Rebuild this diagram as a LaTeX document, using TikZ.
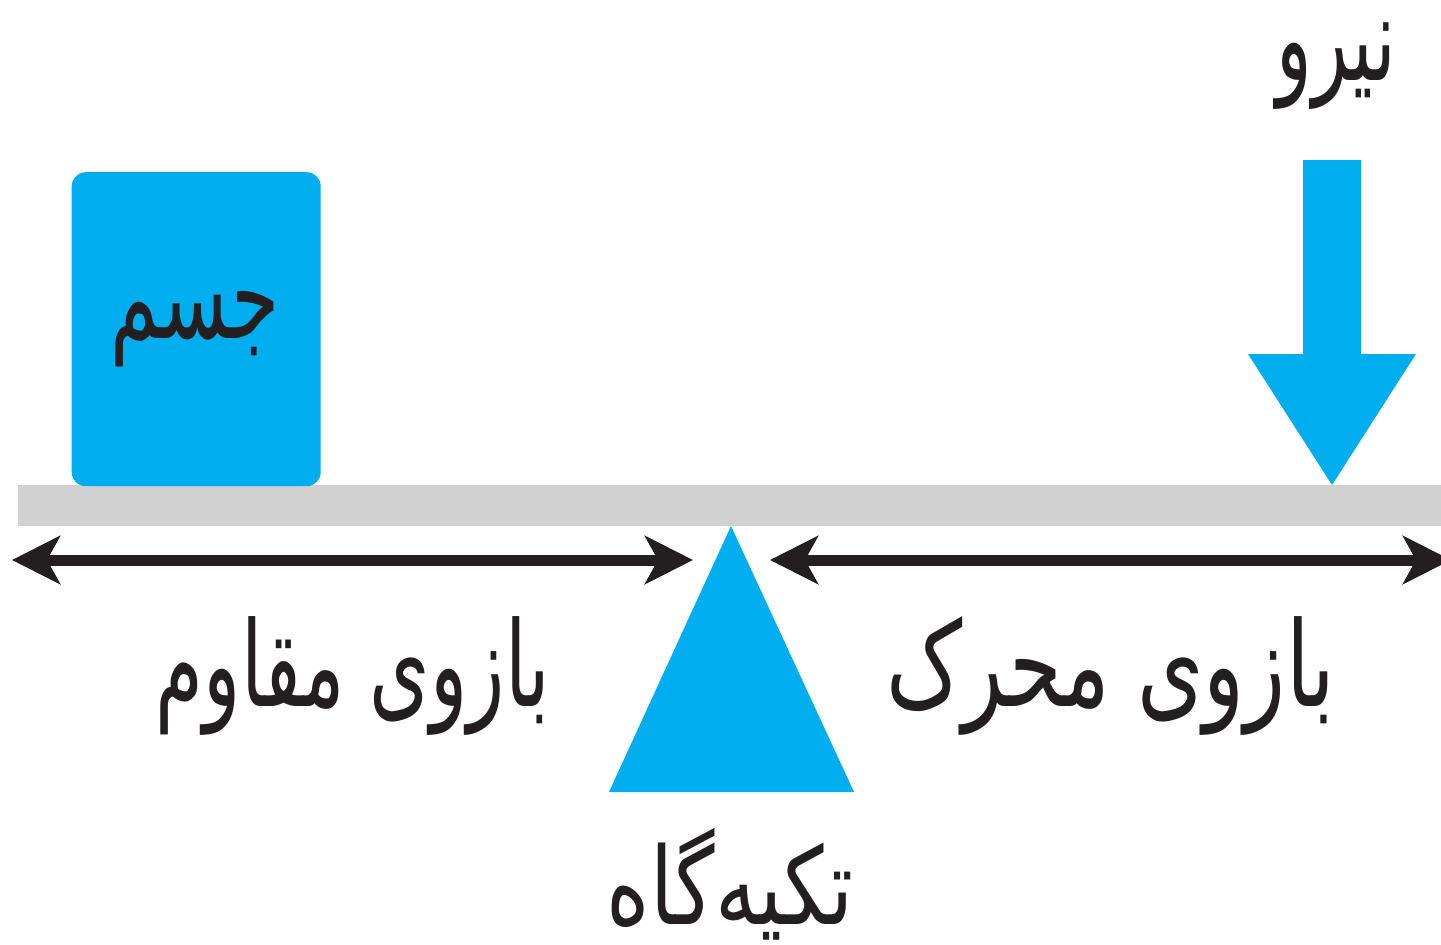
\documentclass[tikz,border=0pt]{standalone}
\usepackage{fontspec}
\usepackage{graphicx}
\usetikzlibrary{arrows.meta}
\TeXXeTstate=1
\newfontfamily\arabicfont[Script=Arabic]{DejaVu Sans}
\definecolor{skyb}{HTML}{00ADEF}
\definecolor{beam}{HTML}{D1D1D1}
\definecolor{ink}{HTML}{231F20}
\tikzset{x=1pt,y=-1pt,
 solid shape/.style={fill=skyb,draw=none},
 span/.style={draw=ink,line width=11pt,{Stealth[length=48pt,width=48pt,inset=13pt]}-{Stealth[length=48pt,width=48pt,inset=13pt]}},
 lab/.style={text=ink,font=\arabicfont\fontsize{74pt}{80pt}\selectfont,inner sep=0pt,anchor=center}}
\begin{document}
\begin{tikzpicture}
\useasboundingbox[clip] (0,0) rectangle (1441,945);
\fill[beam] (18,485) rectangle (1441,526);
\node[solid shape,rounded corners=14pt,inner sep=0pt,anchor=north west,minimum width=249pt,minimum height=314pt] (box) at (71.5,172) {};
\fill[skyb] (1303,160) -- (1361,160) -- (1361,354) -- (1416,354) -- (1332,485) -- (1248,354) -- (1303,354) -- cycle;
\fill[skyb] (731,526) -- (854,792) -- (609,792) -- cycle;
\coordinate (la) at (12,560); \coordinate (lb) at (693,560);
\coordinate (ra) at (770,560); \coordinate (rb) at (1451,560);
\draw[span] (la) -- (lb);
\draw[span] (ra) -- (rb);
\node[lab] (force) at (1336,66) {\scalebox{1}[1.6]{\beginR نیرو\endR}};
\node[lab] (body) at (195,329) {\scalebox{1.05}[1.6]{\beginR جسم\endR}};
\node[lab] (armL) at (353,676) {\scalebox{1.045}[1.6]{\beginR بازوی مقاوم\endR}};
\node[lab] (armR) at (1111,676) {\scalebox{1.15}[1.6]{\beginR بازوی محرک\endR}};
\node[lab] (fulcrum) at (730,884) {\scalebox{1.12}[1.45]{\beginR تکیه‌گاه\endR}};
\end{tikzpicture}
\end{document}
